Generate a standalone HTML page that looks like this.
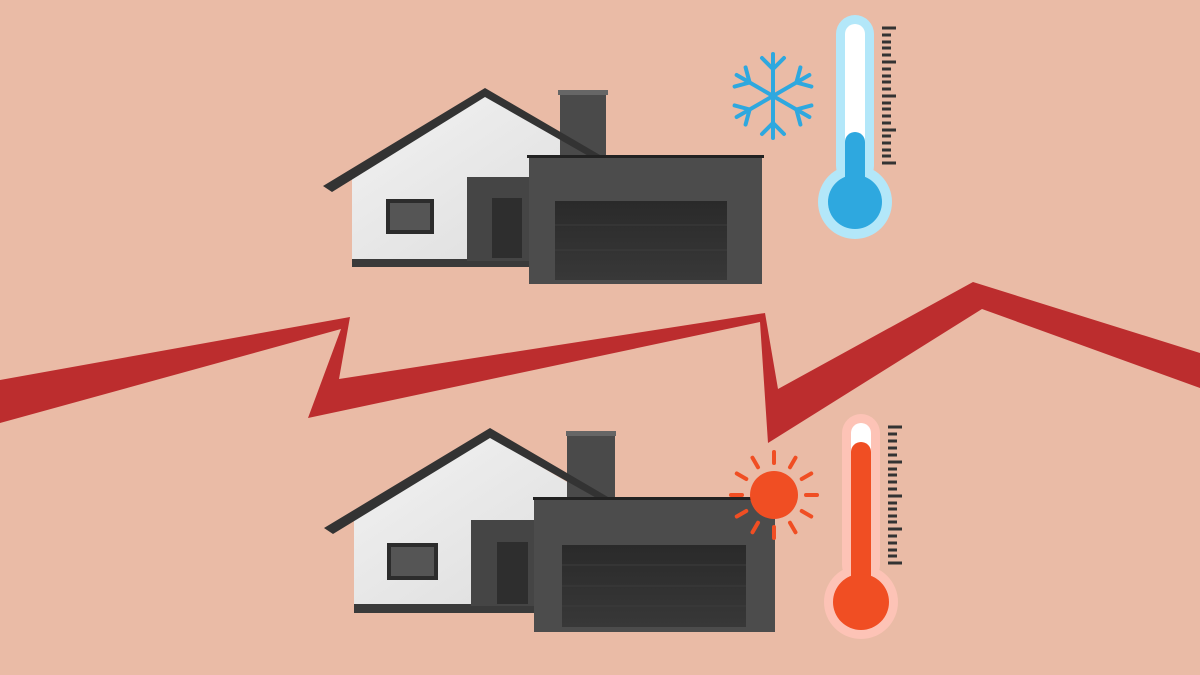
<!DOCTYPE html>
<html><head><meta charset="utf-8"><style>
html,body{margin:0;padding:0;background:#EABBA6;}
svg{display:block}
</style></head><body>
<svg width="1200" height="675" viewBox="0 0 1200 675" xmlns="http://www.w3.org/2000/svg">
<defs>
<linearGradient id="gd" x1="0" y1="0" x2="0" y2="1"><stop offset="0" stop-color="#2a2a2a"/><stop offset="1" stop-color="#383838"/></linearGradient>
<linearGradient id="wall" x1="0" y1="0" x2="1" y2="1"><stop offset="0" stop-color="#f2f2f2"/><stop offset="1" stop-color="#dcdcdc"/></linearGradient>
</defs>
<rect width="1200" height="675" fill="#EABBA6"/>

<polygon fill="#BC2D2E" points="0,380 350,317 339,379 765,313 778,389 973,282 1200,353 1200,388 982,309 768,443 760,322 308,418 341,329 0,423"/>

<!-- TOP HOUSE -->
<g>
<polygon fill="url(#wall)" points="352,177 485,96 600,163 600,260 352,260"/>
<rect x="352" y="259" width="177" height="8" fill="#3a3a3a"/>
<rect x="467" y="177" width="62" height="84" fill="#454545"/>
<rect x="492" y="198" width="30" height="60" fill="#2e2e2e"/>
<rect x="386" y="199" width="48" height="35" fill="#2c2c2c"/>
<rect x="390" y="203" width="40" height="27" fill="#555"/>
<rect x="560" y="92" width="46" height="64" fill="#4a4a4a"/>
<rect x="558" y="90" width="50" height="5" fill="#666"/>
<polygon fill="#333" points="323,186 485,88 600,155 592,158 485,97 332,192"/>
<rect x="529" y="156" width="233" height="128" fill="#4c4c4c"/>
<rect x="527" y="155" width="237" height="3" fill="#222"/>
<rect x="555" y="201" width="172" height="79" fill="url(#gd)"/>
<line x1="555" y1="225" x2="727" y2="225" stroke="#3c3c3c"/>
<line x1="555" y1="250" x2="727" y2="250" stroke="#3c3c3c"/>
</g>

<!-- BOTTOM HOUSE -->
<g>
<polygon fill="url(#wall)" points="354,519 490,437 608,506 608,605 354,605"/>
<rect x="354" y="604" width="181" height="9" fill="#3a3a3a"/>
<rect x="471" y="520" width="64" height="86" fill="#454545"/>
<rect x="497" y="542" width="31" height="62" fill="#2e2e2e"/>
<rect x="387" y="543" width="51" height="37" fill="#2c2c2c"/>
<rect x="391" y="547" width="43" height="29" fill="#555"/>
<rect x="567" y="434" width="48" height="64" fill="#4a4a4a"/>
<rect x="566" y="431" width="50" height="5" fill="#666"/>
<polygon fill="#333" points="324,528 490,428 608,497 600,500 490,438 333,534"/>
<rect x="534" y="498" width="241" height="134" fill="#4c4c4c"/>
<rect x="533" y="497" width="243" height="3" fill="#222"/>
<rect x="562" y="545" width="184" height="82" fill="url(#gd)"/>
<line x1="562" y1="565" x2="746" y2="565" stroke="#3c3c3c"/>
<line x1="562" y1="586" x2="746" y2="586" stroke="#3c3c3c"/>
<line x1="562" y1="606" x2="746" y2="606" stroke="#3c3c3c"/>
</g>

<!-- snowflake -->
<g stroke="#2EA8DF" stroke-width="4" stroke-linecap="round" fill="none" transform="translate(773,96)">
<g id="arm"><line x1="0" y1="0" x2="0" y2="-42"/><polyline points="-11,-38 0,-27 11,-38"/></g>
<use href="#arm" transform="rotate(60)"/><use href="#arm" transform="rotate(120)"/><use href="#arm" transform="rotate(180)"/><use href="#arm" transform="rotate(240)"/><use href="#arm" transform="rotate(300)"/>
</g>

<!-- cold thermometer -->
<rect x="836" y="15" width="38" height="170" rx="19" fill="#B3E7F9"/>
<circle cx="855" cy="202" r="37" fill="#B3E7F9"/>
<rect x="845" y="24" width="20" height="160" rx="10" fill="#fff"/>
<rect x="845" y="132" width="20" height="70" rx="10" fill="#2EA8DF"/>
<circle cx="855" cy="202" r="27" fill="#2EA8DF"/>
<g stroke="#333" stroke-width="3">
<path d="M882 28h14M882 35h9M882 42h9M882 48h9M882 55h9M882 62h14M882 69h9M882 76h9M882 82h9M882 89h9M882 96h14M882 103h9M882 109h9M882 116h9M882 123h9M882 130h14M882 136h9M882 143h9M882 150h9M882 156h9M882 163h14"/>
</g>

<!-- sun -->
<g transform="translate(774,495)">
<circle r="24" fill="#F04E23"/>
<g stroke="#F04E23" stroke-width="4" stroke-linecap="round">
<line x1="0" y1="-32" x2="0" y2="-43"/><line x1="0" y1="32" x2="0" y2="43"/>
<line x1="-32" y1="0" x2="-43" y2="0"/><line x1="32" y1="0" x2="43" y2="0"/>
<g transform="rotate(30)"><line x1="0" y1="-32" x2="0" y2="-43"/><line x1="0" y1="32" x2="0" y2="43"/><line x1="-32" y1="0" x2="-43" y2="0"/><line x1="32" y1="0" x2="43" y2="0"/></g>
<g transform="rotate(60)"><line x1="0" y1="-32" x2="0" y2="-43"/><line x1="0" y1="32" x2="0" y2="43"/><line x1="-32" y1="0" x2="-43" y2="0"/><line x1="32" y1="0" x2="43" y2="0"/></g>
</g>
</g>

<!-- hot thermometer -->
<rect x="842" y="414" width="38" height="170" rx="19" fill="#FDC3B6"/>
<circle cx="861" cy="602" r="37" fill="#FDC3B6"/>
<rect x="851" y="423" width="20" height="160" rx="10" fill="#fff"/>
<rect x="851" y="442" width="20" height="160" rx="10" fill="#F04E23"/>
<circle cx="861" cy="602" r="28" fill="#F04E23"/>
<g stroke="#333" stroke-width="3">
<path d="M888 427h14M888 434h9M888 441h9M888 448h9M888 455h9M888 462h14M888 469h9M888 475h9M888 482h9M888 489h9M888 496h14M888 503h9M888 509h9M888 516h9M888 522h9M888 529h14M888 536h9M888 543h9M888 550h9M888 556h9M888 563h14"/>
</g>
</svg>
</body></html>
